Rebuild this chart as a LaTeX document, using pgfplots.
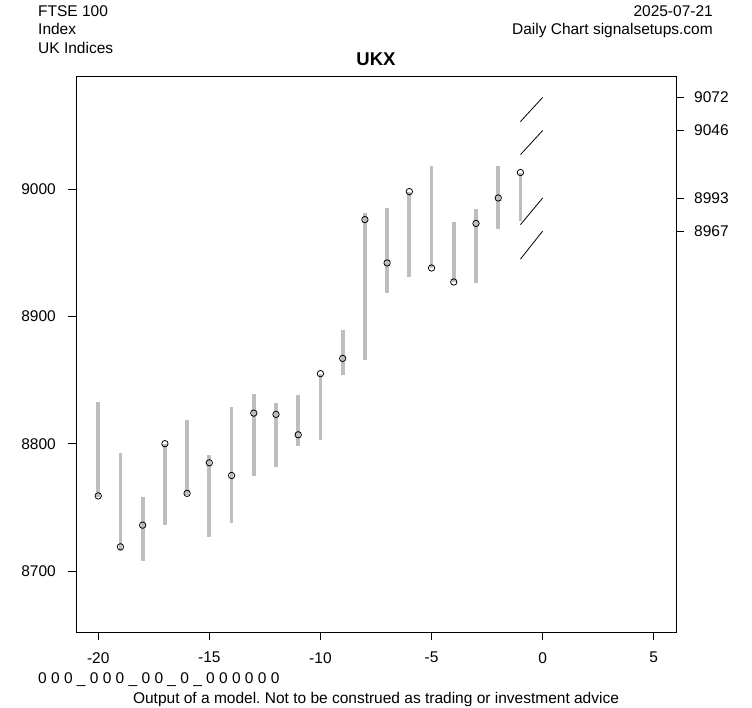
\documentclass[border=0pt]{standalone}
\usepackage{pgfplots}
\pgfplotsset{compat=1.18}
\usepackage{pgfplotstable}
\usepackage{fontspec}
\setmainfont{Liberation Sans}
\definecolor{barGray}{HTML}{BEBEBE}
\newcommand{\rf}{\fontsize{15.5bp}{18bp}\selectfont}

\pgfplotstableread{
x lo hi close
-20 8758 8833 8759
-19 8716 8793 8719
-18 8708 8758 8736
-17 8736 8800 8800
-16 8760 8819 8761
-15 8727 8791 8785
-14 8738 8829 8775
-13 8775 8839 8824
-12 8782 8832 8823
-11 8798 8838 8807
-10 8803 8855 8855
-9 8854 8889 8867
-8 8866 8981 8976
-7 8918 8985 8942
-6 8931 8998 8998
-5 8938 9018 8938
-4 8927 8974 8927
-3 8926 8984 8973
-2 8969 9018 8993
-1 8975 9013 9013
}\bars

\pgfplotstableread{
x y
-1 9053
0 9072
-1 nan
-1 9027
0 9046
-1 nan
-1 8972
0 8993
-1 nan
-1 8945
0 8967
}\proj

\begin{document}
\frenchspacing
\begin{tikzpicture}
\path[use as bounding box] (0,0) rectangle (752bp,708bp);
\begin{axis}[
  at={(76bp,76bp)}, anchor=south west,
  scale only axis, width=600bp, height=556bp,
  xmin=-21, xmax=6, ymin=8652.1, ymax=9088.8,
  axis line style={black, line width=0.9bp},
  tick style={black, line width=0.9bp},
  major tick length=8bp, tick align=outside,
  xtick pos=bottom, ytick pos=left,
  xtick={-20,-15,-10,-5,0,5},
  xticklabels={-20,-15,-10,-5,0,5},
  ytick={8700,8800,8900,9000},
  yticklabels={8700,8800,8900,9000},
  ticklabel style={font=\rf},
  xticklabel style={inner sep=0pt, yshift=-12bp},
  yticklabel style={inner sep=0pt, xshift=-12bp},
  unbounded coords=jump,
  clip=false,
]
\addplot[draw=none, mark=none, forget plot,
  error bars/.cd, y dir=both, y explicit, error mark=none,
  error bar style={line width=3.7bp, draw=barGray}]
  table[x=x, y=close,
    y error plus expr={\thisrow{hi}-\thisrow{close}},
    y error minus expr={\thisrow{close}-\thisrow{lo}}] {\bars};
\addplot[only marks, mark=o, mark size=3.2bp, black, line width=0.8bp] table[x=x, y=close] {\bars};
\addplot[black, line width=0.8bp, mark=none] table[x=x, y=y] {\proj};
\end{axis}
\begin{axis}[
  at={(76bp,76bp)}, anchor=south west,
  scale only axis, width=600bp, height=556bp,
  xmin=-21, xmax=6, ymin=8652.1, ymax=9088.8,
  hide x axis, axis y line*=right,
  axis line style={black, line width=0.9bp},
  tick style={black, line width=0.9bp},
  major tick length=8bp, tick align=outside,
  ytick={8967,8993,9046,9072},
  yticklabels={8967,8993,9046,9072},
  ticklabel style={font=\rf},
  yticklabel style={inner sep=0pt, xshift=10bp},
]
\end{axis}
\node[anchor=base west, inner sep=0pt, font=\rf] at (38bp,691.5bp) {FTSE 100};
\node[anchor=base west, inner sep=0pt, font=\rf] at (38bp,673bp) {Index};
\node[anchor=base west, inner sep=0pt, font=\rf] at (38bp,654.5bp) {UK Indices};
\node[anchor=base east, inner sep=0pt, font=\rf] at (713bp,691.5bp) {2025-07-21};
\node[anchor=base east, inner sep=0pt, font=\rf] at (713bp,673bp) {Daily Chart signalsetups.com};
\node[anchor=base, inner sep=0pt, font=\fontsize{18.5bp}{22bp}\selectfont\bfseries] at (376bp,642bp) {UKX};
\node[anchor=base west, inner sep=0pt, font=\rf] at (38bp,25bp) {0 0 0 \_ 0 0 0 \_ 0 0 \_ 0 \_ 0 0 0 0 0 0};
\node[anchor=base, inner sep=0pt, font=\rf] at (376bp,4.5bp) {Output of a model. Not to be construed as trading or investment advice};
\end{tikzpicture}
\end{document}
